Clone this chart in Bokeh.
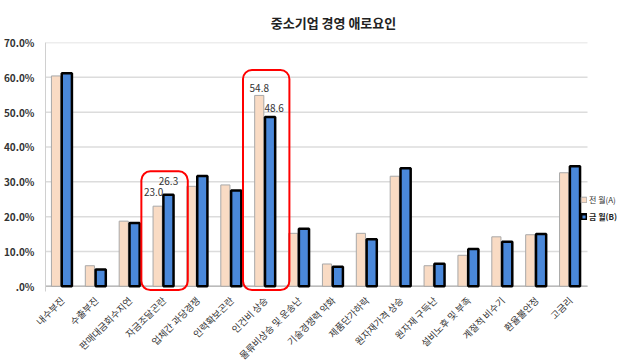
import math
from bokeh.plotting import figure
from bokeh.models import (ColumnDataSource, Range1d, FixedTicker, Legend, LegendItem,
                          BoxAnnotation)
from bokeh.embed import file_html
from bokeh.resources import INLINE
from bokeh.core.properties import value

categories = ["내수부진", "수출부진", "판매대금회수지연", "자금조달곤란", "업체간 과당경쟁",
              "인력확보곤란", "인건비 상승", "물류비상승 및 운송난", "기술경쟁력 약화",
              "제품단가하락", "원자재가격 상승", "원자재 구득난", "설비노후 및 부족",
              "계절적 비수기", "환율불안정", "고금리"]
prev_month = [60.4, 5.9, 18.7, 23.0, 28.7, 29.1, 54.8, 15.2, 6.4, 15.2, 31.6, 5.9, 8.9, 14.2, 14.8, 32.6]
this_month = [61.2, 4.8, 18.2, 26.3, 31.7, 27.5, 48.6, 16.5, 5.6, 13.5, 33.9, 6.5, 10.7, 12.8, 15.0, 34.5]
series_names = ["전 월(A)", "금 월(B)"]
y_ticks = [0, 10, 20, 30, 40, 50, 60, 70]
y_tick_labels = [".0%", "10.0%", "20.0%", "30.0%", "40.0%", "50.0%", "60.0%", "70.0%"]
highlight = [3, 6]  # 자금조달곤란, 인건비 상승

FONT = "Noto Sans CJK KR"
n = len(categories)
idx = list(range(n))
x_end = n * 576 / 542  # extra room on the right of the plot area for the legend

src = ColumnDataSource(dict(
    xa=[i + 0.31 for i in idx], xb=[i + 0.63 for i in idx],
    a=prev_month, b=this_month,
))

p = figure(frame_width=576, frame_height=249, output_backend="svg", toolbar_location=None,
           x_range=Range1d(0, x_end), y_range=Range1d(-1.5, 70),
           title="중소기업 경영 애로요인", min_border_left=2, min_border_right=0,
           min_border_top=0, min_border_bottom=0)
p.title.align = "center"
p.title.text_font = FONT
p.title.text_font_size = "13px"
p.title.text_font_style = "bold"
p.title.text_color = "#222222"
p.title.text_line_height = 0.9
p.title.standoff = 21
p.title.offset = -17
p.outline_line_color = None

# horizontal gridlines spanning only the category area
p.segment(x0=[0] * len(y_ticks), x1=[n] * len(y_ticks), y0=y_ticks, y1=y_ticks,
          line_color="#DCDCDC", line_width=1.5)
p.segment(x0=[0], x1=[n], y0=[0], y1=[0], line_color="#BBBBBB", line_width=1.5)

ra = p.vbar(x="xa", top="a", bottom=0, width=0.27, source=src,
            fill_color="#F9DBC4", line_color="#A8A8A8", line_width=1)
rb = p.vbar(x="xb", top="b", bottom=0, width=0.30, source=src,
            fill_color="#4A88DA", line_color="#000000", line_width=2.5)

# axes
p.yaxis.ticker = FixedTicker(ticks=y_ticks)
p.yaxis.major_label_overrides = {t: l for t, l in zip(y_ticks, y_tick_labels)}
p.yaxis.major_label_text_font = FONT
p.yaxis.major_label_text_font_size = "10px"
p.yaxis.major_label_text_font_style = "bold"
p.yaxis.major_label_text_color = "#333333"
p.yaxis.axis_line_color = "#D0D0D0"
p.yaxis.major_tick_line_color = None
p.yaxis.minor_tick_line_color = None

p.xaxis.ticker = FixedTicker(ticks=[i + 0.5 for i in idx])
p.xaxis.major_label_overrides = {i + 0.5: c for i, c in zip(idx, categories)}
p.xaxis.major_label_orientation = math.pi / 4
p.xaxis.major_label_text_font = FONT
p.xaxis.major_label_text_font_size = "9.5px"
p.xaxis.major_label_text_color = "#333333"
p.xaxis.axis_line_color = None
p.xaxis.major_tick_line_color = None
p.xaxis.minor_tick_line_color = None
p.xaxis.major_label_standoff = 1

p.xgrid.grid_line_color = None
p.ygrid.grid_line_color = None

# highlight boxes
tops = [33.0, 62.1]
for h, t in zip(highlight, tops):
    p.add_layout(BoxAnnotation(left=h - 0.17, right=h + 1.2, bottom=-1.1, top=t,
                               fill_alpha=0, line_color="#FF0000", line_alpha=1.0,
                               line_width=2, border_radius=9))

# data labels for highlighted categories (prev month, this month)
label_dx = [[-4, 0], [0, 4]]
label_dy = [[-10, -10], [-3, -5]]
for k, h in enumerate(highlight):
    xs = [h + 0.31, h + 0.63]
    ys = [prev_month[h], this_month[h]]
    for j in range(2):
        p.text(x=xs[j], y=ys[j], text=[f"{ys[j]:.1f}"],
               text_align="center", text_baseline="bottom",
               x_offset=label_dx[k][j], y_offset=label_dy[k][j],
               text_font=value(FONT), text_font_size="10px", text_color="#333333")

leg_a = Legend(items=[LegendItem(label=series_names[0], renderers=[ra])],
               location=(535, 86), glyph_width=7, glyph_height=7, label_standoff=2,
               padding=0, margin=0, border_line_color=None, background_fill_alpha=0,
               label_text_font=FONT, label_text_font_size="8px", label_text_color="#333333",
               label_height=8)
leg_b = Legend(items=[LegendItem(label=series_names[1], renderers=[rb])],
               location=(535, 69), glyph_width=7, glyph_height=7, label_standoff=2,
               padding=0, margin=0, border_line_color=None, background_fill_alpha=0,
               label_text_font=FONT, label_text_font_size="8px", label_text_font_style="bold",
               label_text_color="#222222", label_height=8)
p.add_layout(leg_a, "center")
p.add_layout(leg_b, "center")

open("out.html", "w").write(file_html(p, INLINE))
